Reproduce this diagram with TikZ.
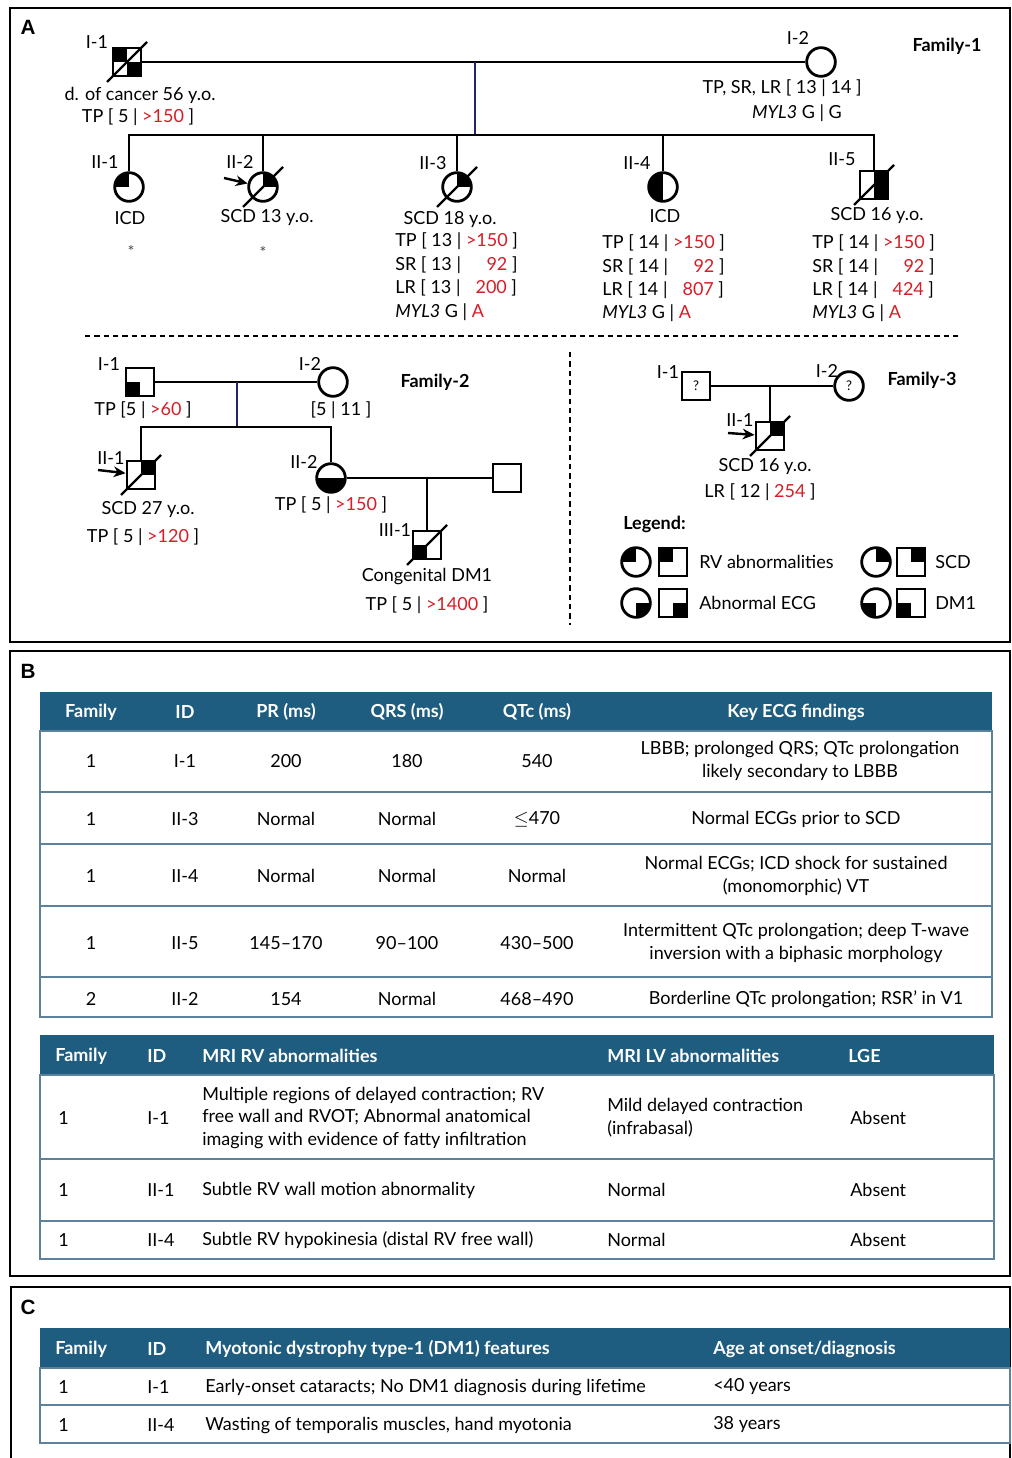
\documentclass[tikz,border=0pt]{standalone}
\usepackage{fontspec}
\setmainfont{Lato}
\newfontfamily\panelfont{Liberation Sans}
\usetikzlibrary{arrows.meta}
\definecolor{myred}{RGB}{214,30,38}
\definecolor{hdr}{RGB}{30,92,128}
\definecolor{rulec}{RGB}{95,130,155}
\definecolor{navyl}{RGB}{35,35,110}
\newlength\rvw
\newcommand\rv[1]{\makebox[\rvw][r]{\textcolor{myred}{#1}}}
\newcommand\rd[1]{\textcolor{myred}{#1}}
\newcommand\pedfont{\fontsize{13.5}{16}\selectfont}
\newcommand\tabfont{\fontsize{13.5}{17}\selectfont}
\newcommand\dead[1]{\draw[slash] ([shift={(-20,20)}]#1.center) -- ([shift={(20,-20)}]#1.center);}
\begin{document}
\begin{tikzpicture}[x=0.75pt,y=-0.75pt,
  every node/.style={inner sep=0pt, font=\pedfont},
  sq/.style={draw, rectangle, minimum size=21pt, line width=2.1pt},
  ci/.style={draw, circle, minimum size=21.5pt, line width=2.1pt},
  qf/.style={path picture={\foreach \c in {#1}{\fill (path picture bounding box.center) rectangle (path picture bounding box.\c);}}},
  ped/.style={line width=1.9pt},
  navyline/.style={line width=1pt, draw=navyl},
  slash/.style={line width=1.8pt},
  parrow/.style={line width=1.8pt, -{Stealth[length=9pt,width=8pt]}},
  data/.style={anchor=west, execute at begin node={\settowidth\rvw{>150}}},
  famlab/.style={font=\pedfont\bfseries},
  panel/.style={font=\panelfont\fontsize{15.5}{16}\selectfont\bfseries},
  th/.style={text=white, font=\tabfont\bfseries},
  thl/.style={text=white, font=\tabfont\bfseries, anchor=west},
  td/.style={font=\tabfont, align=center},
  tdl/.style={font=\tabfont, anchor=west, align=left},
  frame/.style={line width=1.3pt},
  tabrule/.style={draw=rulec, line width=1.3pt},
  qm/.style={font=\fontsize{10}{10}\selectfont},
  ast/.style={font=\fontsize{12}{12}\selectfont, text=black!70}
]
\useasboundingbox (0,0) rectangle (1012,1458);
\fill[white] (0,0) rectangle (1012,1458);

% ---------- frames ----------
\draw[frame] (10,8) rectangle (1010,642);
\draw[frame] (10,651) rectangle (1010,1276);
\draw[frame] (11,1458) -- (11,1287) -- (1010,1287) -- (1010,1458);
\node[panel] (pA) at (28,27) {A};
\node[panel] (pB) at (28,671) {B};
\node[panel] (pC) at (28,1307) {C};

% ---------- Family 1 ----------
\node[sq, qf={north west,south east}] (f1a) at (127,62) {};
\node[ci] (f1b) at (821,62) {};
\node[ci, qf=north west] (f1c) at (129,187) {};
\node[ci, qf=north east] (f1d) at (263,187) {};
\node[ci, qf=north east] (f1e) at (457,187) {};
\node[ci, qf={north west,south west}] (f1f) at (663,187) {};
\node[sq, qf={north east,south east}] (f1g) at (874,185) {};
\coordinate (m1) at (475,62);
\coordinate (s1) at (475,135);
\draw[ped] (f1a) -- (f1b);
\draw[navyline] (m1) -- (s1);
\draw[ped] (f1c) |- (s1) -| (f1g);
\draw[ped] (f1d) -- (f1d |- s1);
\draw[ped] (f1e) -- (f1e |- s1);
\draw[ped] (f1f) -- (f1f |- s1);
\dead{f1a}\dead{f1d}\dead{f1e}\dead{f1g}
\coordinate (a1) at (224,178);
\draw[parrow] (a1) -- (f1d);

\node (l1a) at (97,42) {I-1};
\node (l1b) at (798,38) {I-2};
\node (l1c) at (105,162) {II-1};
\node (l1d) at (240,162) {II-2};
\node (l1e) at (433,163) {II-3};
\node (l1f) at (637,163) {II-4};
\node (l1g) at (842,159) {II-5};
\node[famlab] (fam1) at (947,46) {Family-1};

\node (t1a1) at (140,95) {d. of cancer 56 y.o.};
\node (t1a2) at (138,117) {TP [ 5 | \rd{>150} ]};
\node (t1b1) at (782,88) {TP, SR, LR [ 13 | 14 ]};
\node (t1b2) at (797,113) {\textit{MYL3} G | G};
\node (t1c1) at (130,218) {ICD};
\node[ast] (t1c2) at (131,251) {*};
\node (t1d1) at (267,218) {SCD 13 y.o.};
\node[ast] (t1d2) at (263,252) {*};

\node (t1e1) at (450,220) {SCD 18 y.o.};
\node[data] (t1e2) at (395,241) {TP [ 13 | \rv{>150} ]};
\node[data] (t1e3) at (395,265) {SR [ 13 | \rv{92} ]};
\node[data] (t1e4) at (395,288) {LR [ 13 | \rv{200} ]};
\node[data] (t1e5) at (395,312) {\textit{MYL3} G | \rd{A}};

\node (t1f1) at (665,216) {ICD};
\node[data] (t1f2) at (602,243) {TP [ 14 | \rv{>150} ]};
\node[data] (t1f3) at (602,267) {SR [ 14 | \rv{92} ]};
\node[data] (t1f4) at (602,290) {LR [ 14 | \rv{807} ]};
\node[data] (t1f5) at (602,313) {\textit{MYL3} G | \rd{A}};

\node (t1g1) at (877,216) {SCD 16 y.o.};
\node[data] (t1g2) at (812,243) {TP [ 14 | \rv{>150} ]};
\node[data] (t1g3) at (812,267) {SR [ 14 | \rv{92} ]};
\node[data] (t1g4) at (812,290) {LR [ 14 | \rv{424} ]};
\node[data] (t1g5) at (812,313) {\textit{MYL3} G | \rd{A}};

% separators
\draw[line width=1.2pt, dash pattern=on 4pt off 3pt] (85,336) -- (962,336);
\draw[line width=1.2pt, dash pattern=on 4pt off 3pt] (570,352) -- (570,625);

% ---------- Family 2 ----------
\node[sq, qf=south west] (f2a) at (140,382) {};
\node[ci] (f2b) at (333,382) {};
\node[sq, qf=north east] (f2c) at (141,475) {};
\node[ci, qf={south west,south east}] (f2d) at (331,478) {};
\node[sq] (f2e) at (507,478) {};
\node[sq, qf=south west] (f2f) at (427,545) {};
\coordinate (m2) at (237,382);
\coordinate (s2) at (237,427);
\coordinate (m3) at (427,478);
\draw[ped] (f2a) -- (f2b);
\draw[navyline] (m2) -- (s2);
\draw[ped] (f2c) |- (s2) -| (f2d);
\draw[ped] (f2d) -- (f2e);
\draw[ped] (m3) -- (f2f);
\dead{f2c}\dead{f2f}
\coordinate (a2) at (98,470);
\draw[parrow] (a2) -- (f2c);

\node (l2a) at (109,364) {I-1};
\node (l2b) at (310,364) {I-2};
\node (l2c) at (111,458) {II-1};
\node (l2d) at (304,462) {II-2};
\node (l2f) at (395,530) {III-1};
\node[famlab] (fam2) at (435,382) {Family-2};
\node (t2a) at (143,410) {TP [5 | \rd{>60} ]};
\node (t2b) at (341,410) {[5 | 11 ]};
\node (t2c1) at (148,510) {SCD 27 y.o.};
\node (t2c2) at (143,537) {TP [ 5 | \rd{>120} ]};
\node (t2d) at (331,505) {TP [ 5 | \rd{>150} ]};
\node (t2f1) at (427,577) {Congenital DM1};
\node (t2f2) at (427,605) {TP [ 5 | \rd{>1400} ]};

% ---------- Family 3 ----------
\node[sq, qm] (f3a) at (696,386) {?};
\node[ci, qm] (f3b) at (849,386) {?};
\node[sq, qf=north east] (f3c) at (770,436) {};
\coordinate (m4) at (770,386);
\draw[ped] (f3a) -- (f3b);
\draw[ped] (m4) -- (f3c);
\dead{f3c}
\coordinate (a3) at (728,433);
\draw[parrow] (a3) -- (f3c);
\node (l3a) at (668,372) {I-1};
\node (l3b) at (827,371) {I-2};
\node (l3c) at (740,420) {II-1};
\node[famlab] (fam3) at (922,380) {Family-3};
\node (t3a) at (765,467) {SCD 16 y.o.};
\node (t3b) at (760,492) {LR [ 12 | \rd{254} ]};

% ---------- Legend ----------
\node[famlab, anchor=west] (leg) at (623,524) {Legend:};
\node[ci, qf=north west] (g1a) at (636,562) {};
\node[sq, qf=north west] (g1b) at (673,562) {};
\node[anchor=west] (g1t) at (699,562) {RV abnormalities};
\node[ci, qf=south east] (g2a) at (636,603) {};
\node[sq, qf=south east] (g2b) at (673,603) {};
\node[anchor=west] (g2t) at (699,603) {Abnormal ECG};
\node[ci, qf=north east] (g3a) at (876,562) {};
\node[sq, qf=north east] (g3b) at (911,562) {};
\node[anchor=west] (g3t) at (935,562) {SCD};
\node[ci, qf=south west] (g4a) at (876,603) {};
\node[sq, qf=south west] (g4b) at (911,603) {};
\node[anchor=west] (g4t) at (935,603) {DM1};

% ---------- Table B1 ----------
\fill[hdr] (40,692) rectangle (992,731);
\draw[tabrule] (40,731) rectangle (992,1017);
\foreach \yy in {792,844,906,977} \draw[tabrule] (40,\yy) -- (992,\yy);
\node[th] (h1) at (91,712) {Family};
\node[th] (h2) at (185,712) {ID};
\node[th] (h3) at (286,712) {PR (ms)};
\node[th] (h4) at (407,712) {QRS (ms)};
\node[th] (h5) at (537,712) {QTc (ms)};
\node[th] (h6) at (796,712) {Key ECG findings};
% row 1
\node[td] (r1c1) at (91,761) {1};
\node[td] (r1c2) at (185,761) {I-1};
\node[td] (r1c3) at (286,761) {200};
\node[td] (r1c4) at (407,761) {180};
\node[td] (r1c5) at (537,761) {540};
\node[td] (r1c6) at (800,761) {LBBB; prolonged QRS; QTc prolongation\\likely secondary to LBBB};
% row 2
\node[td] (r2c1) at (91,819) {1};
\node[td] (r2c2) at (185,819) {II-3};
\node[td] (r2c3) at (286,819) {Normal};
\node[td] (r2c4) at (407,819) {Normal};
\node[td] (r2c5) at (537,819) {$\leq$470};
\node[td] (r2c6) at (796,819) {Normal ECGs prior to SCD};
% row 3
\node[td] (r3c1) at (91,876) {1};
\node[td] (r3c2) at (185,876) {II-4};
\node[td] (r3c3) at (286,876) {Normal};
\node[td] (r3c4) at (407,876) {Normal};
\node[td] (r3c5) at (537,876) {Normal};
\node[td] (r3c6) at (796,876) {Normal ECGs; ICD shock for sustained\\(monomorphic) VT};
% row 4
\node[td] (r4c1) at (91,943) {1};
\node[td] (r4c2) at (185,943) {II-5};
\node[td] (r4c3) at (286,943) {145–170};
\node[td] (r4c4) at (407,943) {90–100};
\node[td] (r4c5) at (537,943) {430–500};
\node[td] (r4c6) at (796,943) {Intermittent QTc prolongation; deep T-wave\\inversion with a biphasic morphology};
% row 5
\node[td] (r5c1) at (91,999) {2};
\node[td] (r5c2) at (185,999) {II-2};
\node[td] (r5c3) at (286,999) {154};
\node[td] (r5c4) at (407,999) {Normal};
\node[td] (r5c5) at (537,999) {468–490};
\node[td] (r5c6) at (806,999) {Borderline QTc prolongation; RSR’ in V1};

% ---------- Table B2 ----------
\fill[hdr] (40,1035) rectangle (994,1075);
\draw[tabrule] (40,1075) rectangle (994,1259);
\foreach \yy in {1159,1221} \draw[tabrule] (40,\yy) -- (994,\yy);
\node[thl] (k1) at (55,1056) {Family};
\node[thl] (k2) at (147,1056) {ID};
\node[thl] (k3) at (202,1056) {MRI RV abnormalities};
\node[thl] (k4) at (607,1056) {MRI LV abnormalities};
\node[thl] (k5) at (848,1056) {LGE};
\node[tdl] (q1c1) at (58,1118) {1};
\node[tdl] (q1c2) at (147,1118) {I-1};
\node[tdl] (q1c3) at (202,1118) {Multiple regions of delayed contraction; RV\\free wall and RVOT; Abnormal anatomical\\imaging with evidence of fatty infiltration};
\node[tdl] (q1c4) at (607,1118) {Mild delayed contraction\\(infrabasal)};
\node[tdl] (q1c5) at (850,1118) {Absent};
\node[tdl] (q2c1) at (58,1190) {1};
\node[tdl] (q2c2) at (147,1190) {II-1};
\node[tdl] (q2c3) at (202,1190) {Subtle RV wall motion abnormality};
\node[tdl] (q2c4) at (607,1190) {Normal};
\node[tdl] (q2c5) at (850,1190) {Absent};
\node[tdl] (q3c1) at (58,1240) {1};
\node[tdl] (q3c2) at (147,1240) {II-4};
\node[tdl] (q3c3) at (202,1240) {Subtle RV hypokinesia (distal RV free wall)};
\node[tdl] (q3c4) at (607,1240) {Normal};
\node[tdl] (q3c5) at (850,1240) {Absent};

% ---------- Table C ----------
\fill[hdr] (40,1328) rectangle (1010,1368);
\draw[tabrule] (40,1368) rectangle (1010,1443);
\draw[tabrule] (40,1405) -- (1010,1405);
\node[thl] (c1) at (55,1349) {Family};
\node[thl] (c2) at (147,1349) {ID};
\node[thl] (c3) at (205,1349) {Myotonic dystrophy type-1 (DM1) features};
\node[thl] (c4) at (713,1349) {Age at onset/diagnosis};
\node[tdl] (w1c1) at (58,1387) {1};
\node[tdl] (w1c2) at (147,1387) {I-1};
\node[tdl] (w1c3) at (205,1387) {Early-onset cataracts; No DM1 diagnosis during lifetime};
\node[tdl] (w1c4) at (713,1387) {<40 years};
\node[tdl] (w2c1) at (58,1425) {1};
\node[tdl] (w2c2) at (147,1425) {II-4};
\node[tdl] (w2c3) at (205,1425) {Wasting of temporalis muscles, hand myotonia};
\node[tdl] (w2c4) at (713,1425) {38 years};
\end{tikzpicture}
\end{document}
